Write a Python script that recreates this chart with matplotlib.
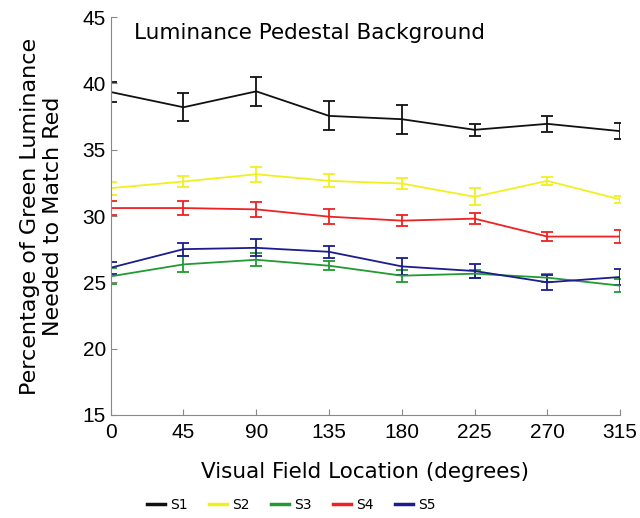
import matplotlib.pyplot as plt
import numpy as np

# Data
locations = [0, 45, 90, 135, 180, 225, 270, 315]
labels = ["S1", "S2", "S3", "S4", "S5"]
colors = ["#111111", "#f0f020", "#229a33", "#ee2222", "#1c1c8c"]

s1 = [39.35, 38.2, 39.4, 37.55, 37.3, 36.5, 36.95, 36.4]
s1_err = [0.75, 1.05, 1.1, 1.1, 1.1, 0.45, 0.6, 0.6]
s2 = [32.1, 32.6, 33.15, 32.65, 32.45, 31.45, 32.65, 31.25]
s2_err = [0.5, 0.4, 0.55, 0.5, 0.45, 0.65, 0.3, 0.25]
s3 = [25.45, 26.35, 26.7, 26.25, 25.5, 25.65, 25.35, 24.75]
s3_err = [0.6, 0.6, 0.5, 0.35, 0.45, 0.3, 0.3, 0.5]
s4 = [30.6, 30.6, 30.5, 29.95, 29.65, 29.8, 28.45, 28.45]
s4_err = [0.55, 0.55, 0.58, 0.55, 0.4, 0.4, 0.37, 0.5]
s5 = [26.1, 27.5, 27.6, 27.3, 26.2, 25.85, 25.0, 25.4]
s5_err = [0.45, 0.5, 0.63, 0.43, 0.67, 0.55, 0.57, 0.6]

means = [s1, s2, s3, s4, s5]
errs = [s1_err, s2_err, s3_err, s4_err, s5_err]

fig = plt.figure(figsize=(6.4, 5.18), dpi=100)
ax = fig.add_axes([0.173, 0.199, 0.796, 0.768])

for m, e, c, lab in zip(means, errs, colors, labels):
    ax.errorbar(locations, m, yerr=e, color=c, lw=1.3, elinewidth=1.3,
                capsize=4, capthick=1.3, label=lab)

ax.set_xlim(0, 315)
ax.set_ylim(15, 45)
ax.set_xticks(locations)
ax.set_yticks(np.arange(15, 46, 5))
ax.tick_params(direction="in", labelsize=15, length=4, color="#888888")
ax.tick_params(axis="x", pad=6)
for lab in ax.get_xticklabels() + ax.get_yticklabels():
    lab.set_family("Liberation Sans")
ax.spines["top"].set_visible(False)
ax.spines["right"].set_visible(False)
ax.spines["left"].set_color("#888888")
ax.spines["bottom"].set_color("#888888")

ax.text(0.045, 0.985, "Luminance Pedestal Background", transform=ax.transAxes,
        fontsize=15.5, va="top", ha="left", family="DejaVu Sans")
ax.set_ylabel("Percentage of Green Luminance\nNeeded to Match Red",
              fontsize=16, family="DejaVu Sans", labelpad=14)
ax.set_xlabel("Visual Field Location (degrees)", fontsize=15.5,
              family="DejaVu Sans", labelpad=14)

handles = [plt.Line2D([], [], color=c, lw=2.5) for c in colors]
fig.legend(handles, labels, loc="lower center", ncol=5, frameon=False,
           bbox_to_anchor=(0.455, -0.012), fontsize=10, handlelength=1.3,
           handletextpad=0.4, columnspacing=1.5)

fig.savefig("out.png", dpi=100)
